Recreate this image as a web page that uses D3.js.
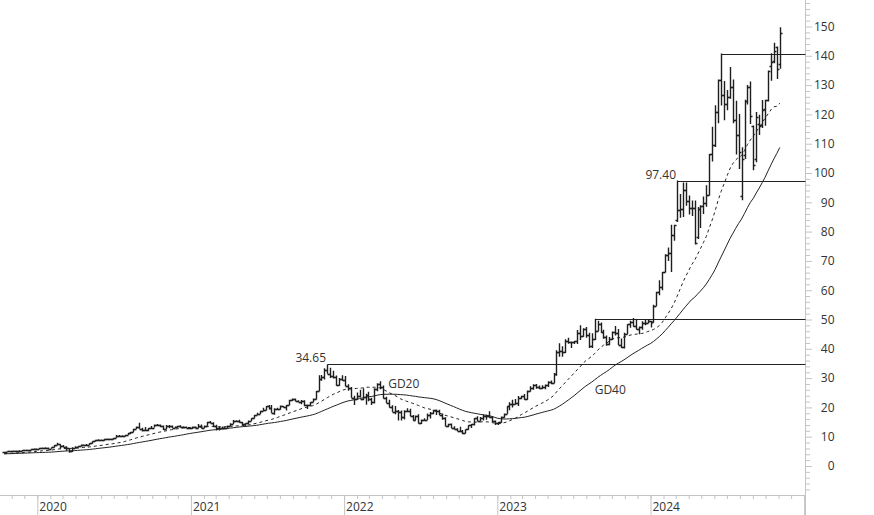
<!DOCTYPE html>
<html>
<head>
<meta charset="utf-8">
<script src="https://cdn.jsdelivr.net/npm/d3@7"></script>
<style>
  body { margin: 0; background: #fff; }
  text { font-family: "Open Sans", sans-serif; font-size: 12px; fill: #333; }
</style>
</head>
<body>
<div id="chart"></div>
<script>
var svgWidth = 874;
var svgHeight = 515;
var plotRight = 805.5;
var axisY = 495.5;

// weekly bars, first week starts Monday 2019-10-14
var firstWeek = "2019-10-14";

// closes of the 39 weeks before the first bar (only used to start the averages)
var priorCloses = [3.80,4.00,3.60, 3.60,3.88,4.00,3.98, 3.75,4.13,4.45,4.49, 4.62,4.73,4.75,4.55,4.50,
  4.20,3.95,3.75,3.38, 3.53,3.63,3.98,4.10, 4.00,4.13,4.25,4.30,4.00, 3.95,4.13,4.00,4.20,
  4.50,4.58,4.33,4.22,4.42, 4.63];

var opens = [
  // 2019
  4.65,4.85,5.03,5.12,5.20,5.28,5.26,5.42,5.30,5.50,5.82,5.93,
  // 2020
  5.95,6.17,6.27,6.20, 5.92,6.33,7.10,7.37, 6.75,6.50,6.05,4.95,6.15, 6.50,6.72,7.25,7.10, 7.10,7.70,8.40,8.90,
  8.85,8.95,9.05,9.25,9.15, 9.60,10.38,10.20,10.15, 10.60,11.20,11.55,12.68,13.30, 12.75,12.15,12.30,12.90,
  13.10,13.90,14.00,13.55, 12.55,13.70,13.55,13.05,13.40, 13.70,13.30,13.30,13.05,
  // 2021
  13.05,13.25,12.95,13.75, 12.98,13.80,14.90,14.75, 13.67,12.80,12.95,13.00,13.00, 13.72,14.45,15.35,15.35,
  15.00,14.50,14.55,15.50,16.30, 17.40,17.80,18.75,19.10, 20.45,19.80,18.25,19.50, 19.50,20.35,20.15,20.80,22.60,
  22.80,22.20,21.90,22.10, 20.70,20.80,21.80,22.70, 25.55,29.70,30.40,32.90,31.50, 30.60,30.30,27.70,29.65,
  // 2022
  29.40,27.20,26.50,23.30,22.90, 23.90,23.00,23.60,24.15, 22.90,21.70,26.40,28.10, 26.80,23.10,21.60,20.10,
  18.50,18.80,18.60,16.65,18.90, 18.70,16.95,15.80,17.15, 14.52,15.85,15.80,17.40, 18.15,19.00,18.90,17.40,16.33,
  13.60,14.30,13.10,12.50, 12.10,12.08,11.23,12.47,13.83, 14.17,16.30,15.40,16.50, 17.16,17.17,16.70,15.21,
  // 2023
  14.61,14.86,16.87,17.84,20.36, 21.10,21.30,21.39,23.29, 23.90,22.90,25.70,26.78, 27.77,27.00,26.75,27.10,
  27.75,28.67,28.35,31.26,38.95, 39.30,38.77,42.69,42.20, 42.30,42.50,45.47,44.30,46.75, 44.68,40.85,43.30,46.00,
  48.51,45.57,43.90,41.61, 43.50,45.70,45.46,41.39,40.50, 45.04,48.34,49.29,47.78, 46.77,47.50,48.89,48.83,
  // 2024
  49.52,49.10,54.70,59.49,61.06, 66.16,72.13,72.61,78.82, 84.10,87.53,87.84,94.29, 90.36,88.00,88.10,78.10,87.75,
  88.79,89.88,92.48,106.47, 109.63,120.89,131.88,126.57, 123.54,125.83,129.24,117.93,113.06, 92.06,106.30,124.58,129.37,
  116.01,104.88,116.80,116.55,121.77, 124.99,136.47,138.13,143.00, 137.21
];

var highs = [
  4.88,5.05,5.16,5.25,5.32,5.35,5.43,5.45,5.55,5.92,5.95,6.00,
  6.20,6.30,6.37,6.30, 6.35,7.15,7.90,7.40, 7.15,6.70,6.10,6.40,6.70, 6.90,7.30,7.35,7.55, 7.75,8.45,9.00,9.10,
  9.05,9.30,9.40,9.35,9.65, 10.55,10.55,10.50,10.70, 11.30,11.60,12.70,13.45,14.72, 13.05,13.30,13.00,13.65,
  14.15,14.35,14.15,13.80, 14.00,14.00,13.80,13.45,13.75, 13.90,13.55,13.45,13.35,
  13.45,13.45,14.35,14.15, 13.85,15.10,15.35,14.90, 14.10,13.40,13.45,13.40,13.85, 14.55,15.70,15.60,15.80,
  15.05,14.60,15.55,16.30,17.40, 18.15,18.85,19.90,20.50, 20.80,20.80,19.70,19.90, 20.65,20.50,20.85,22.60,23.00,
  23.00,22.45,22.50,22.40, 21.00,21.85,23.00,25.60, 31.00,31.05,33.40,34.65,33.50, 32.50,30.90,30.00,31.00,
  30.70,27.90,27.00,24.00,25.10, 26.00,26.50,24.70,25.30, 23.30,26.50,28.20,28.95, 27.50,23.60,22.60,20.70,
  20.50,19.10,18.90,19.00,19.70, 19.50,17.40,17.25,17.70, 15.90,16.30,17.90,18.40, 19.20,19.30,19.20,17.90,16.60,
  14.40,14.50,13.60,12.90, 13.40,12.30,12.50,13.90,14.30, 16.40,17.00,16.70,17.60, 17.50,18.70,17.00,15.50,
  15.00,16.90,17.90,20.40,21.80, 22.60,22.90,23.90,24.00, 24.60,25.80,27.20,27.90, 28.00,27.50,27.60,27.80,
  28.90,29.20,31.70,39.50,41.90, 40.90,43.30,43.80,42.50, 42.70,46.40,48.00,47.00,47.40, 45.50,45.30,50.27,49.60,
  49.00,46.50,44.50,44.00, 45.90,47.80,46.80,43.50,45.50, 48.40,49.60,50.50,50.00, 47.60,49.40,50.00,49.90,
  49.60,55.00,59.50,63.40,66.20, 72.30,74.60,82.30,82.30, 97.40,92.80,96.80,96.80, 92.30,90.60,90.60,88.40,89.00,
  92.00,95.80,106.50,115.80, 123.10,131.90,140.76,131.40, 128.30,136.15,131.90,124.70,120.16, 108.80,125.00,130.00,131.26,
  116.20,120.80,119.90,124.90,125.00, 135.00,140.89,144.42,143.14, 149.77
];

var lows = [
  4.62,4.80,4.98,5.08,5.12,5.15,5.22,5.10,5.28,5.48,5.80,5.82,
  5.90,6.10,6.10,5.85, 5.90,6.30,7.05,5.90, 6.40,5.20,4.52,4.80,6.00, 6.40,6.70,6.95,7.00, 7.05,7.60,8.40,8.50,
  8.70,8.65,8.95,9.00,9.05, 9.60,9.95,9.95,10.10, 10.55,10.95,11.50,12.60,12.70, 11.80,12.10,11.85,12.85,
  13.10,13.80,13.25,12.30, 12.55,12.90,13.00,12.85,13.15, 13.15,13.00,12.95,12.95,
  12.60,12.90,12.90,12.90, 12.95,13.75,14.70,13.20, 12.15,12.10,12.80,12.60,12.95, 13.65,14.35,14.90,14.80,
  13.90,13.60,14.30,15.40,16.20, 17.30,17.75,18.65,19.05, 19.30,18.20,17.45,19.00, 19.30,19.95,18.90,20.70,22.20,
  22.10,21.80,21.10,20.40, 19.45,20.40,21.80,22.70, 25.50,29.10,29.50,31.45,30.00, 29.90,27.40,27.40,29.10,
  27.20,25.70,23.30,20.80,22.60, 23.40,22.40,20.90,22.10, 20.80,21.30,25.50,26.20, 23.00,21.50,20.00,18.50,
  17.70,15.50,15.50,15.90,18.40, 17.00,15.50,15.70,14.50, 14.30,15.30,15.70,16.20, 17.70,17.40,17.40,15.80,13.60,
  13.20,13.00,12.50,11.90, 11.90,10.80,11.10,12.40,13.00, 13.80,15.30,15.40,15.50, 15.80,16.50,15.00,14.00,
  14.00,14.80,16.50,17.80,19.00, 20.00,21.00,20.50,22.80, 22.60,22.60,25.40,26.00, 26.40,26.20,26.30,26.20,
  27.00,27.90,28.20,30.80,37.30, 37.30,38.60,41.70,40.30, 41.60,41.60,43.00,44.10,43.80, 40.30,40.30,43.00,46.00,
  45.50,43.40,41.00,41.20, 43.00,44.50,41.30,40.30,40.10, 45.00,47.20,47.50,46.60, 45.00,46.50,48.00,48.70,
  47.30,49.00,54.60,58.30,60.00, 66.00,70.00,66.20,76.90, 83.30,84.70,85.00,88.80, 85.80,85.30,75.60,77.50,81.20,
  86.00,88.50,92.30,103.90, 108.90,117.00,123.00,118.00, 121.40,125.30,117.00,106.30,101.37, 90.69,104.80,123.40,116.71,
  100.95,103.70,113.00,115.40,116.10, 124.40,131.50,137.46,132.11, 135.57
];

var closes = [
  4.85,5.03,5.12,5.20,5.28,5.26,5.42,5.30,5.50,5.82,5.93,5.95,
  6.17,6.27,6.20,5.92, 6.33,7.10,7.37,6.75, 6.50,6.05,4.95,6.15,6.50, 6.72,7.25,7.10,7.10, 7.70,8.40,8.90,8.85,
  8.95,9.05,9.25,9.15,9.60, 10.38,10.20,10.15,10.60, 11.20,11.55,12.68,13.30,12.75, 12.15,12.30,12.90,13.10,
  13.90,14.00,13.55,12.55, 13.70,13.55,13.05,13.40,13.70, 13.30,13.30,13.05,13.05,
  13.25,12.95,13.75,12.98, 13.80,14.90,14.75,13.67, 12.80,12.95,13.00,13.00,13.72, 14.45,15.35,15.35,15.00,
  14.50,14.55,15.50,16.30,17.40, 17.80,18.75,19.10,20.45, 19.80,18.25,19.50,19.50, 20.35,20.15,20.80,22.60,22.80,
  22.20,21.90,22.10,20.70, 20.80,21.80,22.70,25.55, 29.70,30.40,32.90,31.50,30.60, 30.30,27.70,29.65,29.40,
  27.20,26.50,23.30,22.90,23.90, 23.00,23.60,24.15,22.90, 21.70,26.40,28.10,26.80, 23.10,21.60,20.10,18.50,
  18.80,18.60,16.65,18.90,18.70, 16.95,15.80,17.15,14.52, 15.85,15.80,17.40,18.15, 19.00,18.90,17.40,16.33,13.60,
  14.30,13.10,12.50,12.10, 12.08,11.23,12.47,13.83,14.17, 16.30,15.40,16.50,17.16, 17.17,16.70,15.21,14.61,
  14.86,16.87,17.84,20.36,21.10, 21.30,21.39,23.29,23.90, 22.90,25.70,26.78,27.77, 27.00,26.75,27.10,27.75,
  28.67,28.35,31.26,38.95,39.30, 38.77,42.69,42.20,42.30, 42.50,45.47,44.30,46.75,44.68, 40.85,43.30,46.00,48.51,
  45.57,43.90,41.61,43.50, 45.70,45.46,41.39,40.50,45.04, 48.34,49.29,47.78,46.77, 47.50,48.89,48.83,49.52,
  49.10,54.70,59.49,61.06,66.16, 72.13,72.61,78.82,82.23, 87.53,87.84,94.29,90.36, 88.00,88.10,76.20,87.75,88.79,
  89.88,92.48,106.47,109.63, 120.89,131.88,126.57,123.54, 125.83,129.24,117.93,113.06,107.27, 104.75,124.58,129.37,119.37,
  102.83,119.10,116.00,121.40,124.92, 134.80,138.00,141.54,135.40, 147.63
];

// horizontal levels drawn from the bar that set them
var levelValues = [34.65, 50.27, 97.40, 140.76];
var levelStarts = ["2021-11-22", "2023-08-21", "2024-03-04", "2024-06-17"];
var levelLabels = ["34.65", "", "97.40", ""];

// moving average labels
var maNames = ["GD20", "GD40"];
var maLabelDates = ["2022-04-16", "2023-08-21"];
var maLabelValues = [26.7, 24.5];

if (opens.length !== closes.length || highs.length !== closes.length || lows.length !== closes.length) {
  throw new Error("length mismatch " + [opens.length, highs.length, lows.length, closes.length].join(","));
}

var parseDate = d3.timeParse("%Y-%m-%d");
var start = parseDate(firstWeek);
var weeks = closes.map(function(c, i) { return d3.timeDay.offset(start, 7 * i); });

var svg = d3.select("#chart")
  .append("svg")
  .attr("width", svgWidth)
  .attr("height", svgHeight);

svg.append("rect").attr("width", svgWidth).attr("height", svgHeight).attr("fill", "#fff");

var x = d3.scaleTime()
  .domain([parseDate("2020-01-01"), parseDate("2024-01-01")])
  .range([37.3, 650.5]);

var y = d3.scaleLinear()
  .domain([0, 150])
  .range([466, 26.5]);

function barX(d) { return Math.round(x(d)) + 0.5; }
function crispY(v) { return Math.round(y(v)) + 0.5; }

// moving averages over weekly closes
function movingAverage(n) {
  var all = priorCloses.concat(closes);
  var k = priorCloses.length;
  return closes.map(function(c, i) { return d3.mean(all.slice(k + i - n + 1, k + i + 1)); });
}
var gd20 = movingAverage(20);
var gd40 = movingAverage(40);

// axes
var xAxisG = svg.append("g").attr("color", "#c4c4c4");
xAxisG.append("line")
  .attr("x1", 0).attr("x2", plotRight)
  .attr("y1", axisY).attr("y2", axisY)
  .attr("stroke", "#c4c4c4");

var months = d3.timeMonth.range(parseDate("2019-11-01"), parseDate("2025-01-02"))
  .filter(function(d) { return x(d) < plotRight; });
xAxisG.append("g")
  .attr("transform", `translate(0, ${axisY - 0.5})`)
  .call(d3.axisBottom(x).tickValues(months).tickSize(4).tickFormat(""))
  .call(function(g) { g.select(".domain").remove(); });

var years = d3.timeYear.range(parseDate("2020-01-01"), parseDate("2025-01-02"));
xAxisG.append("g")
  .attr("transform", `translate(0, ${axisY - 0.5})`)
  .call(d3.axisBottom(x).tickValues(years).tickSize(20)
    .tickFormat(function(d) { return d.getFullYear() < 2025 ? d3.timeFormat("%Y")(d) : ""; }))
  .call(function(g) { g.select(".domain").remove(); })
  .call(function(g) {
    g.selectAll("text")
      .attr("x", 1.5).attr("y", 16).attr("dy", null)
      .attr("text-anchor", "start");
  });

var yAxisG = svg.append("g")
  .attr("transform", `translate(${plotRight - 0.5}, 0)`)
  .attr("color", "#c4c4c4");
yAxisG.append("line")
  .attr("x1", 0.5).attr("x2", 0.5)
  .attr("y1", 0).attr("y2", svgHeight)
  .attr("stroke", "#c4c4c4");

var minorTicks = d3.range(-8, 160, 2).filter(function(v) { return v % 10 !== 0; });
yAxisG.append("g")
  .call(d3.axisRight(y).tickValues(minorTicks).tickSize(5).tickFormat(""))
  .call(function(g) { g.select(".domain").remove(); });

yAxisG.append("g")
  .call(d3.axisRight(y).tickValues(d3.range(0, 151, 10)).tickSize(7))
  .call(function(g) { g.select(".domain").remove(); })
  .call(function(g) {
    g.selectAll("text").attr("x", 29.5).attr("text-anchor", "end");
  });

var chartGroup = svg.append("g");

// level lines
levelValues.forEach(function(v, i) {
  var x0 = barX(parseDate(levelStarts[i]));
  chartGroup.append("line")
    .attr("x1", x0).attr("x2", plotRight)
    .attr("y1", crispY(v)).attr("y2", crispY(v))
    .attr("stroke", "#222")
    .attr("stroke-width", 1);
  if (levelLabels[i]) {
    chartGroup.append("text")
      .attr("x", x0 - 1.5)
      .attr("y", crispY(v) - 2.5)
      .attr("text-anchor", "end")
      .text(levelLabels[i]);
  }
});

// moving average lines
var maLine = d3.line()
  .x(function(d, i) { return x(weeks[i]); })
  .y(function(d) { return y(d); });

chartGroup.append("path")
  .datum(gd40)
  .attr("d", maLine)
  .attr("fill", "none")
  .attr("stroke", "#222")
  .attr("stroke-width", 1);

chartGroup.append("path")
  .datum(gd20)
  .attr("d", maLine)
  .attr("fill", "none")
  .attr("stroke", "#222")
  .attr("stroke-width", 1)
  .attr("stroke-dasharray", "3,3");

// weekly OHLC bars
chartGroup.append("g")
  .selectAll("path")
  .data(closes)
  .enter()
  .append("path")
  .attr("d", function(c, i) {
    var bx = barX(weeks[i]);
    return `M${bx},${y(highs[i])}V${y(lows[i])}` +
      `M${bx - 2},${crispY(opens[i])}H${bx}` +
      `M${bx},${crispY(c)}H${bx + 2}`;
  })
  .attr("fill", "none")
  .attr("stroke", "#1e1e1e")
  .attr("stroke-width", 1.4);

// MA labels
maNames.forEach(function(name, i) {
  chartGroup.append("text")
    .attr("x", x(parseDate(maLabelDates[i])))
    .attr("y", y(maLabelValues[i]))
    .text(name);
});
</script>
</body>
</html>
